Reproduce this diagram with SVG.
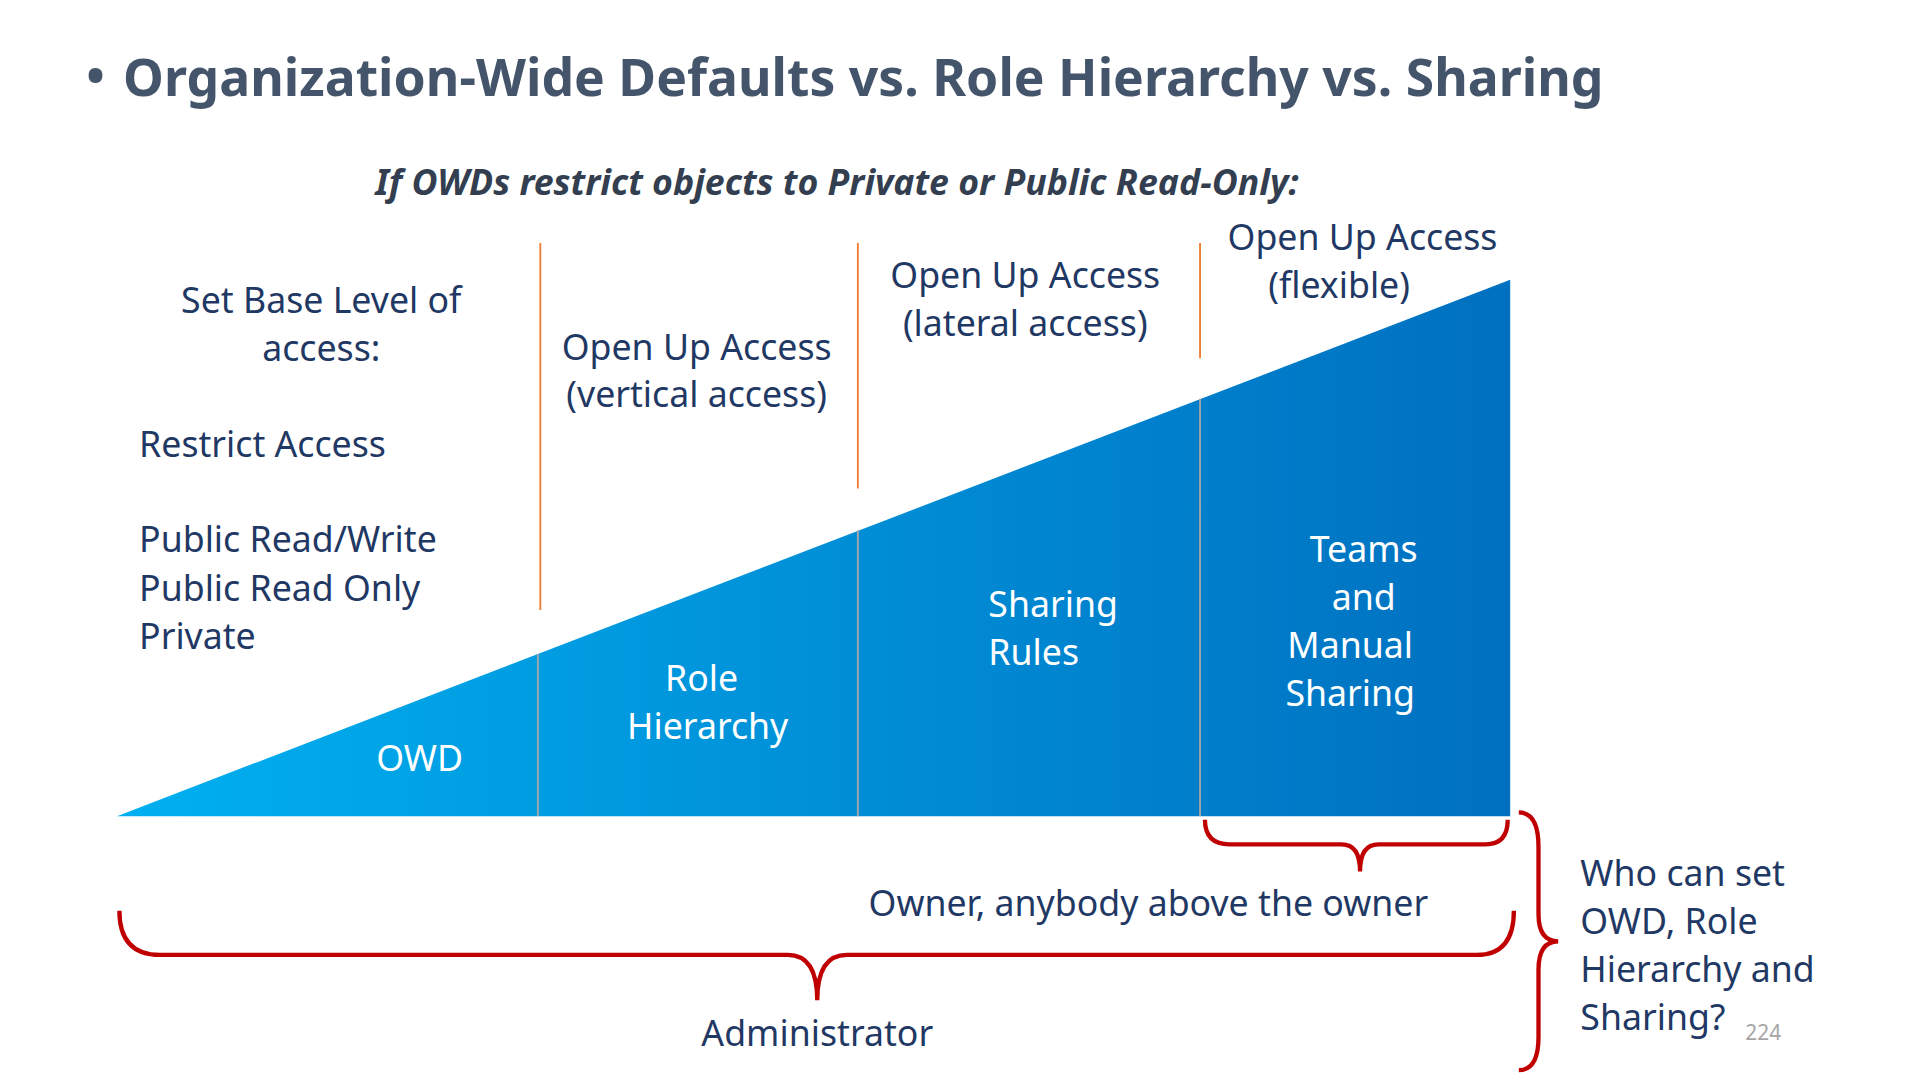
<svg xmlns="http://www.w3.org/2000/svg" width="1920" height="1080" viewBox="0 0 1920 1080">
<defs>
<linearGradient id="g" x1="95" y1="0" x2="1227" y2="0" gradientUnits="userSpaceOnUse">
<stop offset="0" stop-color="#00b0f0"/><stop offset="1" stop-color="#0070c0"/>
</linearGradient>
<style>
text{font-family:"Noto Sans","Open Sans",sans-serif}
.d{fill:#1f3864;font-size:29px}
.w{fill:#fff;font-size:29px}
.c{text-anchor:middle}
.o{stroke:#ed7d31;stroke-width:1.5}
.s{stroke:#a6a6a6;stroke-width:1.5}
.br{fill:none;stroke:#c00000;stroke-width:3.5}
</style>
</defs>
<rect width="1920" height="1080" fill="#fff"/>
<g transform="scale(1.2308 1.2273)">
<g id="title">
<text x="70" y="76" font-size="40" font-weight="bold" fill="#44546a">•</text>
<text x="100" y="78" font-size="42" font-weight="bold" fill="#44546a">Organization-Wide Defaults vs. Role Hierarchy vs. Sharing</text>
<text x="680" y="159" class="c" font-size="29" font-weight="bold" font-style="italic" fill="#333f50">If OWDs restrict objects to Private or Public Read-Only:</text>
</g>
<g id="triangle">
<polygon points="95,665 1227,665 1227,228" fill="url(#g)"/>
<line x1="437" y1="533" x2="437" y2="665" class="s"/>
<line x1="697" y1="432" x2="697" y2="665" class="s"/>
<line x1="975" y1="325" x2="975" y2="665" class="s"/>
<text x="341" y="628" class="w c">OWD</text>
<text x="570" y="563" class="w c">Role</text>
<text x="575" y="602" class="w c">Hierarchy</text>
<text x="803" y="503" class="w">Sharing</text>
<text x="803" y="542" class="w">Rules</text>
<text x="1108" y="458" class="w c">Teams</text>
<text x="1108" y="497" class="w c">and</text>
<text x="1097" y="536" class="w c">Manual</text>
<text x="1097" y="575" class="w c">Sharing</text>
</g>
<g id="separators">
<line x1="439" y1="198" x2="439" y2="497" class="o"/>
<line x1="697" y1="198" x2="697" y2="398" class="o"/>
<line x1="975" y1="198" x2="975" y2="292" class="o"/>
</g>
<g id="labels">
<text x="261" y="255" class="d c">Set Base Level of</text>
<text x="261" y="294" class="d c">access:</text>
<text x="113" y="372" class="d">Restrict Access</text>
<text x="113" y="450" class="d">Public Read/Write</text>
<text x="113" y="490" class="d">Public Read Only</text>
<text x="113" y="529" class="d">Private</text>
<text x="566" y="293" class="d c">Open Up Access</text>
<text x="566" y="332" class="d c">(vertical access)</text>
<text x="833" y="235" class="d c">Open Up Access</text>
<text x="833" y="274" class="d c">(lateral access)</text>
<text x="1107" y="204" class="d c">Open Up Access</text>
<text x="1088" y="243" class="d c">(flexible)</text>
<text x="933" y="746" class="d c">Owner, anybody above the owner</text>
<text x="664" y="852" class="d c">Administrator</text>
<text x="1284" y="722" class="d">Who can set</text>
<text x="1284" y="761" class="d">OWD, Role</text>
<text x="1284" y="800" class="d">Hierarchy and</text>
<text x="1284" y="839" class="d">Sharing?</text>
<text x="1418" y="847" font-size="17" fill="#a6a6a6">224</text>
</g>
<g id="connectors">
<path class="br" d="M979,668 Q979,688 999,688 L1090,688 Q1105,688 1105,710 Q1105,688 1120,688 L1207,688 Q1225,688 1225,668"/>
<path class="br" d="M97,742 Q97,778 130,778 L640,778 Q664,778 664,815 Q664,778 688,778 L1200,778 Q1230,778 1230,742"/>
<path class="br" stroke="#8b0000" d="M1234,662 Q1250,662 1250,690 L1250,745 Q1250,767 1266,767 Q1250,767 1250,790 L1250,845 Q1250,872 1234,872"/>
</g>
</g>
</svg>
